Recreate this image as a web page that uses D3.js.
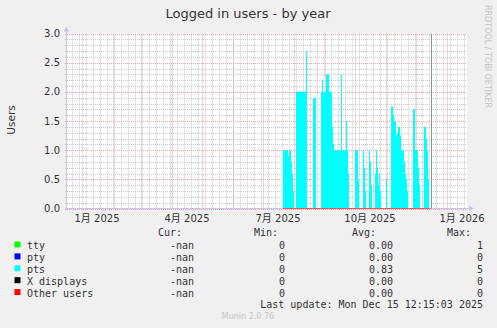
<!DOCTYPE html>
<html lang="ja">
<head>
<meta charset="UTF-8">
<title>Logged in users - by year</title>
<script src="https://d3js.org/d3.v7.min.js"></script>
<style>
  body { margin: 0; background: #f0f0f0; }
  svg { display: block; }
  .sans { font-family: "DejaVu Sans", "Noto Sans CJK JP", sans-serif; fill: #333; }
  .mono { font-family: "DejaVu Sans Mono", monospace; font-size: 10px; fill: #333; }
</style>
</head>
<body>
<div id="chart"></div>
<script>
// values
const yTicks = [0, 0.5, 1.0, 1.5, 2.0, 2.5, 3.0];
const xLabels = ["1月 2025", "4月 2025", "7月 2025", "10月 2025", "1月 2026"];
const xLabelMonths = ["2025-01-01", "2025-04-01", "2025-07-01", "2025-10-01", "2026-01-01"];

// pts, one value per day starting 2025-07-21
const ptsStart = "2025-07-21";
const ptsValues = [
  1.0, 1.0, 1.0, 1.0, 1.0, 0.9, 1.0, 1.0, 0.8, 0.6, 0.3, 0, 0,
  2.0, 2.0, 2.0, 2.0, 2.0, 2.0, 2.0, 2.0, 2.0, 2.0, 2.7,
  0, 0, 0, 0, 0, 0,
  1.9, 1.9, 1.9, 0, 0, 0, 0, 0,
  2.0, 2.2, 2.0, 2.0, 2.0, 2.3, 2.3, 2.3, 2.0, 2.0, 2.0,
  1.4, 1.1, 1.0, 1.0, 1.0, 1.0, 1.0, 1.0, 1.0, 2.3, 1.0, 1.0, 1.0, 1.0, 1.5, 1.0, 0.6,
  0, 0, 0, 0, 0, 0,
  1.0, 1.0, 1.0, 0.5, 0, 0, 0, 0,
  1.0, 0.7, 0.3, 0, 0, 0,
  1.0, 0.8, 0.4, 0, 0, 0,
  0.6, 1.0, 0.7, 0.4, 0.6, 0.3, 0, 0, 0, 0, 0, 0.5, 0, 0, 0, 0,
  1.75, 1.75, 1.6, 1.5, 1.5, 1.25, 1.3, 1.4, 1.4, 1.25, 1.0, 1.0, 1.0, 0.8, 0.6, 0.5, 0.3,
  0, 0, 0, 0, 0,
  1.7, 1.7, 1.0, 1.0, 1.0, 0.7, 0.4,
  0, 0, 0, 0,
  1.4, 1.4, 1.2, 1.0, 0.5, 0, 0
];

const legendNames = ["tty", "pty", "pts", "X displays", "Other users"];
const legendColors = ["#00ff00", "#0000ff", "#00ffff", "#000000", "#ff0000"];
const legendCur = ["-nan", "-nan", "-nan", "-nan", "-nan"];
const legendMin = ["0", "0", "0", "0", "0"];
const legendAvg = ["0.00", "0.00", "0.83", "0.00", "0.00"];
const legendMax = ["1", "0", "5", "0", "0"];

const nowTime = "2025-12-15T12:15:03Z";
const lastUpdate = "Last update: Mon Dec 15 12:15:03 2025";

const width = 497, height = 328;
const pLeft = 67, pRight = 467, pTop = 33.5, pBottom = 208.5;

const svg = d3.select("#chart").append("svg")
    .attr("width", width)
    .attr("height", height);

svg.append("rect").attr("width", width).attr("height", height).attr("fill", "#f0f0f0");

// 400 days, one pixel per day
const t0 = new Date("2024-12-17T00:00:00Z");
const x = d3.scaleUtc()
    .domain([t0, d3.utcDay.offset(t0, 400)])
    .range([pLeft, pRight]);
const y = d3.scaleLinear().domain([0, 3]).range([pBottom, pTop]);

// plot canvas
svg.append("rect")
    .attr("x", pLeft).attr("y", pTop)
    .attr("width", pRight - pLeft).attr("height", pBottom - pTop)
    .attr("fill", "#fff");

const grid = svg.append("g");

// minor grid: weeks and 0.1 steps
d3.utcSunday.range(x.domain()[0], x.domain()[1]).forEach(d => {
  const px = Math.round(x(d)) + 0.5;
  grid.append("line")
      .attr("x1", px).attr("x2", px).attr("y1", pTop).attr("y2", pBottom)
      .attr("stroke", "#c8c8c8").attr("stroke-dasharray", "1,1");
});
d3.range(1, 30).forEach(i => {
  const py = Math.round(y(i / 10)) + 0.5;
  grid.append("line")
      .attr("x1", pLeft).attr("x2", pRight).attr("y1", py).attr("y2", py)
      .attr("stroke", "#c8c8c8").attr("stroke-dasharray", "1,1");
  grid.append("line")
      .attr("x1", pLeft - 2).attr("x2", pLeft).attr("y1", py).attr("y2", py)
      .attr("stroke", "#c8c8c8");
});

// major grid: months and 0.5 steps
d3.utcMonth.range(x.domain()[0], x.domain()[1]).forEach(d => {
  const px = Math.round(x(d)) + 0.5;
  grid.append("line")
      .attr("x1", px).attr("x2", px).attr("y1", pTop).attr("y2", pBottom)
      .attr("stroke", "#f4a0a0").attr("stroke-dasharray", "1,1");
});
yTicks.forEach(v => {
  const py = Math.round(y(v)) + 0.5;
  grid.append("line")
      .attr("x1", pLeft - 2).attr("x2", pRight).attr("y1", py).attr("y2", py)
      .attr("stroke", "#f4a0a0").attr("stroke-dasharray", "1,1");
});

// pts area
const start = new Date(ptsStart + "T00:00:00Z");
const pts = ptsValues.map((v, i) => ({ t: d3.utcDay.offset(start, i), v: v }));
pts.push({ t: d3.utcDay.offset(start, ptsValues.length), v: 0 });

svg.append("path")
    .datum(pts)
    .attr("fill", "#00ffff")
    .attr("d", d3.area()
        .curve(d3.curveStepAfter)
        .x(d => x(d.t))
        .y0(y(0))
        .y1(d => y(d.v)));

// axes
const axisColor = "#c4c4f4";
svg.append("line")
    .attr("x1", pLeft - 0.5).attr("x2", pLeft - 0.5).attr("y1", pBottom + 2).attr("y2", pTop - 3)
    .attr("stroke", axisColor);
svg.append("path")
    .attr("d", `M${pLeft - 3.5},${pTop - 2} L${pLeft - 0.5},${pTop - 7} L${pLeft + 2.5},${pTop - 2} Z`)
    .attr("fill", axisColor);
svg.append("line")
    .attr("x1", pLeft - 2).attr("x2", pRight + 3).attr("y1", pBottom).attr("y2", pBottom)
    .attr("stroke", axisColor);
svg.append("path")
    .attr("d", `M${pRight + 2},${pBottom - 3} L${pRight + 7},${pBottom} L${pRight + 2},${pBottom + 3} Z`)
    .attr("fill", axisColor);

// zero line for the last series over the known range
svg.append("line")
    .attr("x1", x(start)).attr("x2", x(new Date(nowTime)))
    .attr("y1", pBottom).attr("y2", pBottom)
    .attr("stroke", "#f05060");

// now rule
const nx = Math.round(x(new Date(nowTime))) + 0.5;
svg.append("line")
    .attr("x1", nx).attr("x2", nx).attr("y1", pTop).attr("y2", pBottom)
    .attr("stroke", "#909090");

// y labels
svg.append("g").selectAll("text")
    .data(yTicks)
    .join("text")
    .attr("class", "sans")
    .attr("x", 60)
    .attr("y", d => y(d) + 3.5)
    .attr("text-anchor", "end")
    .attr("font-size", 10)
    .text(d3.format(".1f"));

// x labels, centred in the middle of the month
svg.append("g").selectAll("text")
    .data(xLabelMonths)
    .join("text")
    .attr("class", "sans")
    .attr("x", d => x(d3.utcDay.offset(new Date(d + "T00:00:00Z"), 15)))
    .attr("y", 222)
    .attr("text-anchor", "middle")
    .attr("font-size", 10)
    .text((d, i) => xLabels[i]);

// title and axis title
svg.append("text").attr("class", "sans")
    .attr("x", 248).attr("y", 18)
    .attr("text-anchor", "middle").attr("font-size", 13)
    .text("Logged in users - by year");

svg.append("text").attr("class", "sans")
    .attr("transform", "translate(15,120) rotate(-90)")
    .attr("text-anchor", "middle").attr("font-size", 10.5)
    .text("Users");

svg.append("text")
    .attr("transform", "translate(485,5) rotate(90)")
    .attr("font-family", "DejaVu Sans, sans-serif")
    .attr("font-size", 8)
    .attr("fill", "#c4c4c4")
    .text("RRDTOOL / TOBI OETIKER");

// legend
const hdr = svg.append("g");
[["Cur:", 158], ["Min:", 254], ["Avg:", 352], ["Max:", 447]].forEach(h => {
  hdr.append("text").attr("class", "mono").attr("x", h[1]).attr("y", 236).text(h[0]);
});

legendNames.forEach((name, i) => {
  const ry = 249 + i * 11.9;
  svg.append("rect")
      .attr("x", 14.5).attr("y", ry - 7.5)
      .attr("width", 6).attr("height", 6)
      .attr("fill", legendColors[i]);
  svg.append("text").attr("class", "mono").attr("x", 27).attr("y", ry).text(name);
  svg.append("text").attr("class", "mono").attr("x", 194).attr("y", ry)
      .attr("text-anchor", "end").text(legendCur[i]);
  svg.append("text").attr("class", "mono").attr("x", 285).attr("y", ry)
      .attr("text-anchor", "end").text(legendMin[i]);
  svg.append("text").attr("class", "mono").attr("x", 393).attr("y", ry)
      .attr("text-anchor", "end").text(legendAvg[i]);
  svg.append("text").attr("class", "mono").attr("x", 483).attr("y", ry)
      .attr("text-anchor", "end").text(legendMax[i]);
});

svg.append("text").attr("class", "mono")
    .attr("x", 483).attr("y", 308)
    .attr("text-anchor", "end")
    .text(lastUpdate);

svg.append("text")
    .attr("x", 248).attr("y", 319)
    .attr("text-anchor", "middle")
    .attr("font-family", "DejaVu Sans, sans-serif")
    .attr("font-size", 8)
    .attr("fill", "#c4c4c4")
    .text("Munin 2.0.76");
</script>
</body>
</html>
